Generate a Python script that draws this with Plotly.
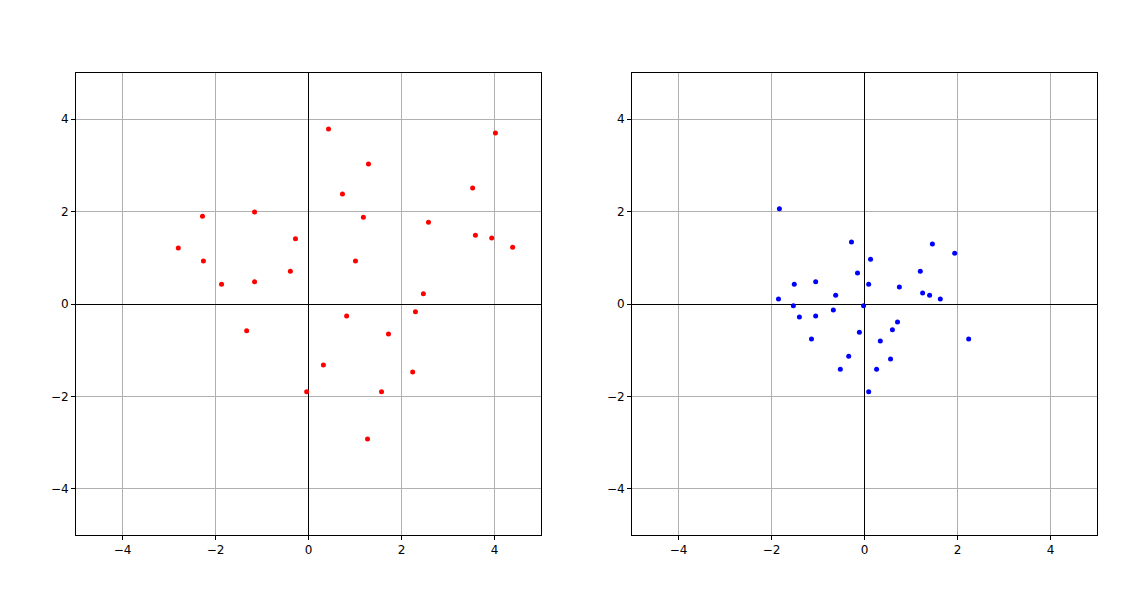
import plotly.graph_objects as go

red_x = [0.43,4.02,1.29,0.73,3.53,-2.28,-1.16,1.18,2.58,-2.80,-0.28,3.59,3.94,4.39,-2.26,1.01,-0.39,-1.87,-1.16,2.47,0.82,2.30,-1.33,1.72,0.32,2.24,-0.04,1.57,1.27]
red_y = [3.79,3.70,3.03,2.38,2.51,1.90,1.99,1.88,1.77,1.21,1.41,1.49,1.43,1.23,0.93,0.93,0.71,0.43,0.48,0.22,-0.26,-0.17,-0.58,-0.65,-1.32,-1.47,-1.90,-1.90,-2.92]
blue_x = [-1.83,-0.28,1.46,1.94,0.13,-0.15,1.20,0.09,-1.05,-1.51,0.75,-0.62,1.25,1.40,1.63,-1.85,-1.53,-0.02,-0.67,-1.40,-1.05,0.71,-0.11,0.60,-1.14,0.34,2.24,-0.34,0.56,0.26,-0.52,0.09]
blue_y = [2.06,1.34,1.30,1.10,0.97,0.67,0.71,0.43,0.48,0.43,0.37,0.19,0.24,0.19,0.11,0.11,-0.04,-0.04,-0.13,-0.28,-0.26,-0.39,-0.61,-0.56,-0.76,-0.80,-0.76,-1.13,-1.19,-1.41,-1.41,-1.90]
ticks = [-4, -2, 0, 2, 4]

fig = go.Figure()
fig.add_trace(go.Scatter(x=red_x, y=red_y, mode="markers", marker=dict(color="red", size=5), xaxis="x", yaxis="y"))
fig.add_trace(go.Scatter(x=blue_x, y=blue_y, mode="markers", marker=dict(color="blue", size=5), xaxis="x2", yaxis="y2"))

ax = dict(range=[-5, 5], tickvals=ticks, ticktext=["−4","−2","0","2","4"], showgrid=True, gridcolor="#b0b0b0", gridwidth=1,
          zeroline=True, zerolinecolor="black", zerolinewidth=0.8, showline=True, linecolor="black", mirror=True,
          ticks="outside", ticklen=4, tickcolor="black", tickfont=dict(family="DejaVu Sans", size=12, color="black"))
ydom = [1-527/600, 1-65/600]
fig.update_layout(
    width=1132, height=600, margin=dict(l=0, r=0, t=0, b=0), showlegend=False,
    plot_bgcolor="white", paper_bgcolor="white",
    xaxis=dict(ax, domain=[68/1132, 533/1132], anchor="y"),
    yaxis=dict(ax, domain=ydom, anchor="x"),
    xaxis2=dict(ax, domain=[624/1132, 1089/1132], anchor="y2"),
    yaxis2=dict(ax, domain=ydom, anchor="x2"),
)
fig.write_html("out.html")
